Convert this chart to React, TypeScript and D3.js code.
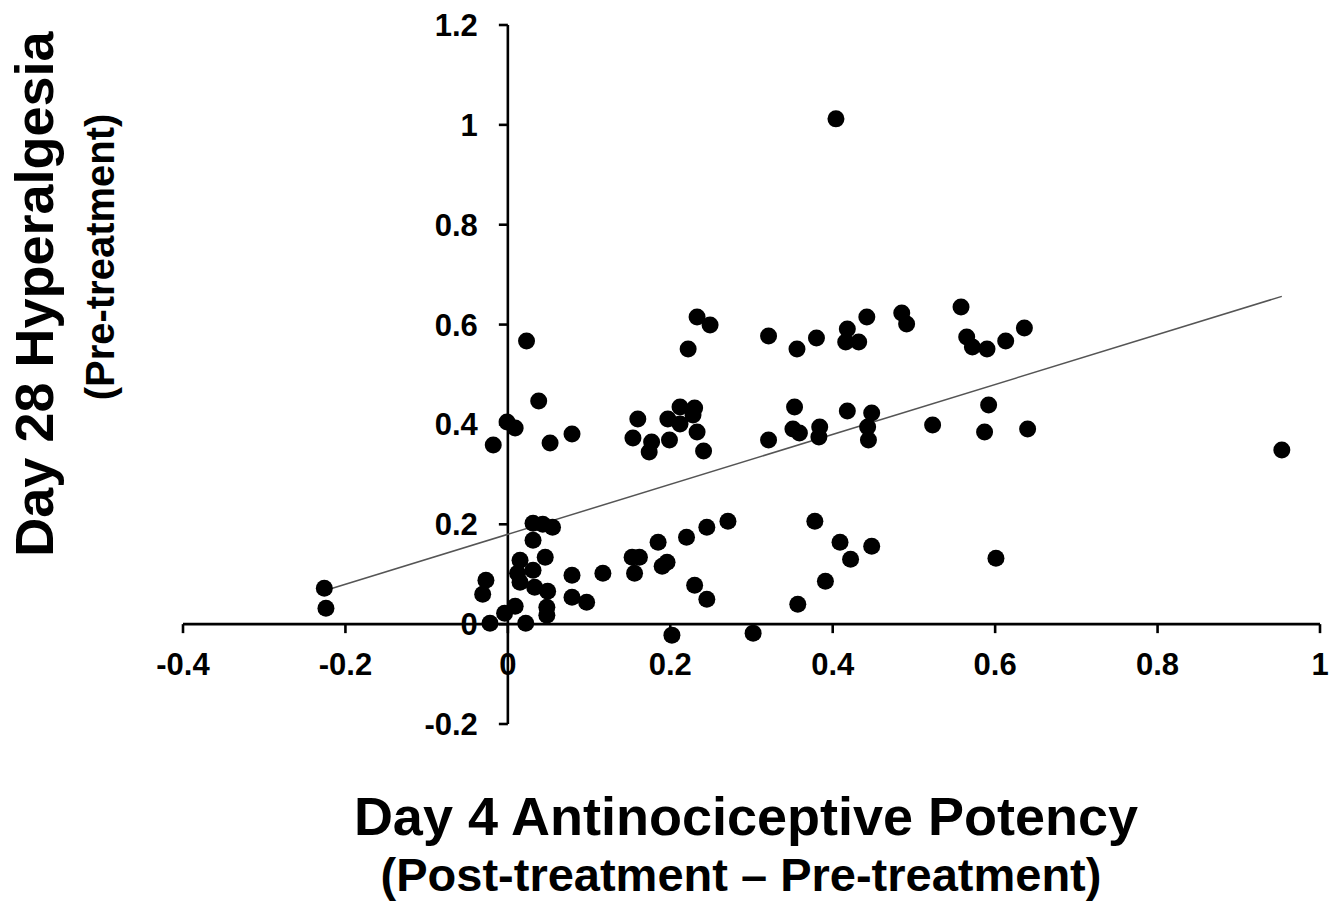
import React from "react";
import * as d3 from "d3";

// Data
const xValues = [
  -0.226, -0.224, -0.027, -0.031, -0.022, -0.004, 0.009, 0.022, 0.031, 0.043,
  0.055, 0.031, 0.046, 0.015, 0.012, 0.031, 0.015, 0.033, 0.049, 0.048,
  0.048, 0.079, 0.079, 0.097, 0.117, 0.153, 0.162, 0.156, 0.185, 0.19,
  0.196, 0.22, 0.245, 0.271, 0.23, 0.245, 0.202, 0.302, 0.378, 0.409,
  0.422, 0.448, 0.391, 0.357, 0.601, 0.953, 0.404,
  0.038, -0.001, 0.009, -0.018, 0.052, 0.079, 0.16, 0.154, 0.174, 0.177,
  0.199, 0.197, 0.212, 0.212, 0.23, 0.228, 0.233, 0.241, 0.321, 0.353,
  0.351, 0.359, 0.384, 0.383, 0.418, 0.448, 0.443, 0.444, 0.523, 0.592,
  0.587, 0.64,
  0.023, 0.233, 0.249, 0.222, 0.321, 0.356, 0.38, 0.418, 0.416, 0.432,
  0.442, 0.485, 0.491, 0.558, 0.565, 0.572, 0.59, 0.613, 0.636,
];
const yValues = [
  0.072, 0.032, 0.088, 0.06, 0.002, 0.022, 0.036, 0.002, 0.202, 0.2,
  0.194, 0.168, 0.134, 0.128, 0.102, 0.108, 0.084, 0.074, 0.066, 0.034,
  0.018, 0.098, 0.054, 0.044, 0.102, 0.134, 0.134, 0.102, 0.164, 0.116,
  0.124, 0.174, 0.194, 0.206, 0.078, 0.05, -0.022, -0.018, 0.206, 0.164,
  0.13, 0.156, 0.086, 0.04, 0.132, 0.349, 1.012,
  0.447, 0.405, 0.393, 0.359, 0.363, 0.381, 0.411, 0.373, 0.345, 0.365,
  0.369, 0.411, 0.435, 0.401, 0.433, 0.419, 0.385, 0.347, 0.369, 0.435,
  0.391, 0.383, 0.395, 0.375, 0.427, 0.423, 0.395, 0.369, 0.399, 0.439,
  0.385, 0.391,
  0.567, 0.615, 0.599, 0.551, 0.577, 0.551, 0.573, 0.591, 0.565, 0.565,
  0.615, 0.623, 0.601, 0.635, 0.575, 0.555, 0.551, 0.567, 0.593,
];

const trendSlope = 0.5;
const trendIntercept = 0.18;

const xTicks = [-0.4, -0.2, 0, 0.2, 0.4, 0.6, 0.8, 1];
const xTickLabels = ["-0.4", "-0.2", "0", "0.2", "0.4", "0.6", "0.8", "1"];
const yTicks = [-0.2, 0, 0.2, 0.4, 0.6, 0.8, 1, 1.2];
const yTickLabels = ["-0.2", "0", "0.2", "0.4", "0.6", "0.8", "1", "1.2"];

const xTitle = "Day 4 Antinociceptive Potency";
const xSubtitle = "(Post-treatment \u2013 Pre-treatment)";
const yTitle = "Day 28 Hyperalgesia";
const ySubtitle = "(Pre-treatment)";

export default function App() {
  const W = 1331;
  const H = 901;
  const x = d3.scaleLinear().domain([-0.4, 1]).range([183, 1320]);
  const y = d3.scaleLinear().domain([-0.2, 1.2]).range([724, 25]);
  const x0 = x(0);
  const y0 = y(0);
  const font = "'Liberation Sans', Arial, sans-serif";
  const tickLen = 9;
  const axisW = 2.6;

  const xMin = d3.min(xValues) as number;
  const xMax = d3.max(xValues) as number;
  const trend = d3
    .line<number>()
    .x((d) => x(d))
    .y((d) => y(trendIntercept + trendSlope * d));

  return (
    <svg
      width={W}
      height={H}
      style={{ position: "absolute", left: 0, top: 0, background: "#fff" }}
      fontFamily={font}
      fontWeight="bold"
    >
      {/* x axis */}
      <line x1={x(-0.4)} x2={x(1)} y1={y0} y2={y0} stroke="#000" strokeWidth={axisW} />
      {xTicks.map((t, i) => (
        <g key={"xt" + i}>
          <line x1={x(t)} x2={x(t)} y1={y0} y2={y0 + tickLen} stroke="#000" strokeWidth={axisW} />
          <text x={x(t)} y={y0 + 51} textAnchor="middle" fontSize={31} fill="#000">
            {xTickLabels[i]}
          </text>
        </g>
      ))}
      {/* y axis */}
      <line x1={x0} x2={x0} y1={y(-0.2)} y2={y(1.2)} stroke="#000" strokeWidth={axisW} />
      {yTicks.map((t, i) => (
        <g key={"yt" + i}>
          <line x1={x0 - tickLen} x2={x0} y1={y(t)} y2={y(t)} stroke="#000" strokeWidth={axisW} />
          <text x={x0 - 30} y={y(t) + 11} textAnchor="end" fontSize={31} fill="#000">
            {yTickLabels[i]}
          </text>
        </g>
      ))}
      {/* trend line */}
      <path d={trend([xMin, xMax]) || ""} stroke="#555" strokeWidth={1.5} fill="none" />
      {/* points */}
      {xValues.map((v, i) => (
        <circle key={"p" + i} cx={x(v)} cy={y(yValues[i])} r={8.5} fill="#000" />
      ))}
      {/* titles */}
      <text x={746} y={835} textAnchor="middle" fontSize={54} fill="#000">
        {xTitle}
      </text>
      <text x={741} y={891} textAnchor="middle" fontSize={47} fill="#000">
        {xSubtitle}
      </text>
      <text transform="translate(53,294) rotate(-90)" textAnchor="middle" fontSize={54} fill="#000">
        {yTitle}
      </text>
      <text transform="translate(114,257) rotate(-90)" textAnchor="middle" fontSize={40} fill="#000">
        {ySubtitle}
      </text>
    </svg>
  );
}
